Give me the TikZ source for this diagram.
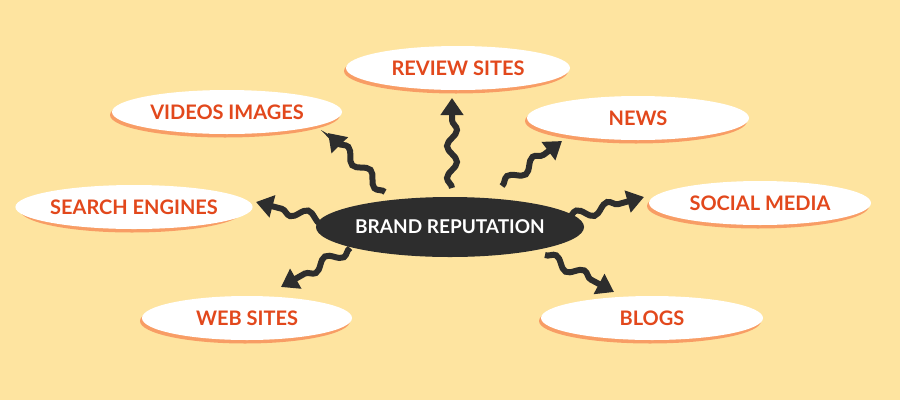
\documentclass[tikz,border=0pt]{standalone}
\usepackage{fontspec}
\setmainfont{Lato}
\usetikzlibrary{decorations.pathmorphing,arrows.meta,shapes.geometric}
\definecolor{bg}{RGB}{254,228,160}
\definecolor{txt}{RGB}{226,72,28}
\definecolor{shd}{RGB}{245,120,70}
\definecolor{dark}{RGB}{45,45,45}
\tikzset{
 topic/.style={ellipse,fill=white,minimum height=44pt,text=txt,font=\fontsize{20}{24}\selectfont\bfseries,inner sep=0pt},
 wav/.style={draw=dark,line width=6pt,decorate,decoration={snake,amplitude=5pt,segment length=32pt,post length=12pt},-{Triangle[width=22pt,length=17pt]}}
}
\begin{document}
\begin{tikzpicture}[x=1pt,y=-1pt]
\fill[bg] (0,0) rectangle (900,400);
\useasboundingbox (0,0) rectangle (900,400);
\foreach \x/\y/\w in {458/68/224,227/112/230,638/118/222,134/207/224,760/203/222,247/318/210,652/318/222}{
  \fill[shd,opacity=0.65] (\x-2,\y+3) ellipse ({\w/2} and 22.5);
}
\node[topic,minimum width=224pt] (rev) at (458,68) {REVIEW SITES};
\node[topic,minimum width=230pt] (vid) at (227,112) {VIDEOS IMAGES};
\node[topic,minimum width=222pt] (news) at (638,118) {NEWS};
\node[topic,minimum width=224pt] (se) at (134,207) {SEARCH ENGINES};
\node[topic,minimum width=222pt] (sm) at (760,203) {SOCIAL MEDIA};
\node[topic,minimum width=210pt] (web) at (247,318) {WEB SITES};
\node[topic,minimum width=222pt] (blog) at (652,318) {BLOGS};
\node[ellipse,fill=dark,minimum width=224pt,minimum height=60pt,text=white,font=\fontsize{19}{23}\selectfont\bfseries,inner sep=0pt] (c) at (450,227) {BRAND REPUTATION};
\coordinate (a1s) at (385,192); \coordinate (a1e) at (328,133);
\coordinate (a2s) at (452,188); \coordinate (a2e) at (452,98);
\coordinate (a3s) at (502,186); \coordinate (a3e) at (562,141);
\coordinate (a4s) at (568,218); \coordinate (a4e) at (644,197);
\coordinate (a5s) at (332,222); \coordinate (a5e) at (256,202);
\coordinate (a6s) at (350,248); \coordinate (a6e) at (281,287);
\coordinate (a7s) at (545,255); \coordinate (a7e) at (614,292);
\foreach \i in {1,...,7}{\draw[wav] (a\i s) -- (a\i e);}
\end{tikzpicture}
\end{document}
